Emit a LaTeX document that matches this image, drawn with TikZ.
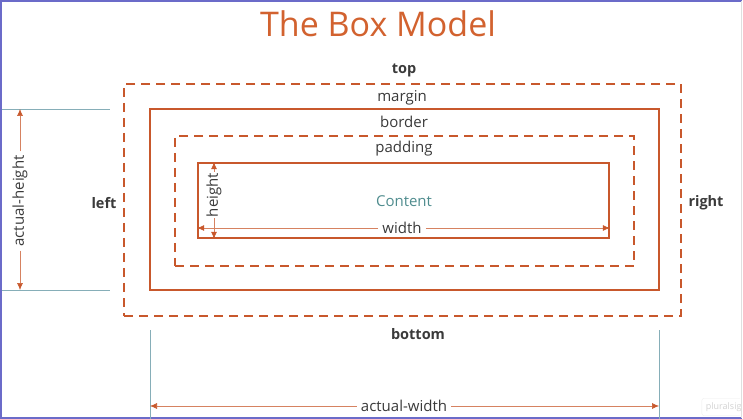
\documentclass[tikz,border=0pt]{standalone}
\usepackage{fontspec}
\setmainfont{Open Sans}
\usepackage{xcolor}
\usetikzlibrary{positioning, arrows.meta, calc}

\definecolor{boxred}{HTML}{C8582C}
\definecolor{titlered}{HTML}{D2622F}
\definecolor{txtgray}{HTML}{3A3A3A}
\definecolor{contentteal}{HTML}{4F8C8E}
\definecolor{extblue}{HTML}{86AEB8}
\definecolor{framepurple}{HTML}{6B6BC9}

\begin{document}
\begin{tikzpicture}[
  x=1pt, y=-1pt,
  every node/.style={font=\fontsize{15}{17}\selectfont, text=txtgray, inner sep=1pt},
  solidbox/.style={draw=boxred, line width=1.6pt, minimum width=#1},
  dashbox/.style={draw=boxred, line width=1.6pt, dash pattern=on 9pt off 6pt},
  side/.style={font=\fontsize{14.5}{17}\selectfont\bfseries},
  dim/.style={draw=boxred!75, line width=0.6pt, -{Latex[length=7pt,width=6pt,color=boxred]}},
  ext/.style={draw=extblue, line width=0.9pt},
]

% ---- frame ----
\useasboundingbox (0,0) rectangle (743,419);
\draw[framepurple, line width=1.2pt] (742,1) -- (1,1) -- (1,418) -- (742,418);
\draw[gray!25, line width=0.8pt] (741,1) -- (741,418);

% ---- title ----
\node[font=\fontsize{34}{38}\selectfont, text=titlered] (title) at (378,24) {The Box Model};

% ---- boxes ----
\node[dashbox, minimum width=557pt, minimum height=232pt] (margin) at (402.5,200) {};
\node[solidbox=509pt, minimum height=181pt] (border) at (404.5,199.5) {};
\node[dashbox, minimum width=459pt, minimum height=130pt] (padding) at (404.5,201) {};
\node[solidbox=411pt, minimum height=75pt] (content) at (403.5,200.5) {};

% ---- labels ----
\node[side] (top) at (404,70) {top};
\node[side] (bottom) at (418,334) {bottom};
\node[side] (left) at (104,203) {left};
\node[side] (right) at (706,203) {right};
\node (marginlbl) at (402,98) {margin};
\node (borderlbl) at (404,122) {border};
\node (paddinglbl) at (404,149) {padding};
\node[text=contentteal] (contentlbl) at (404,201) {Content};

% ---- content dimensions ----
\node[rotate=90] (heightlbl) at (214,195) {height};
\draw[dim] (heightlbl.east) -- (heightlbl.east |- content.north);
\draw[dim] (heightlbl.west) -- (heightlbl.west |- content.south);

\node[inner sep=4pt] (widthlbl) at (402,228) {width};
\draw[dim] (widthlbl.west) -- (widthlbl.west -| content.west);
\draw[dim] (widthlbl.east) -- (widthlbl.east -| content.east);

% ---- actual height ----
\coordinate (ahtop) at (2,109);
\coordinate (ahbot) at (2,290);
\draw[ext] (ahtop) -- ++(108,0);
\draw[ext] (ahbot) -- ++(108,0);
\node[rotate=90, inner sep=4pt] (aheight) at (20,201) {actual-height};
\draw[dim] (aheight.east) -- (aheight.east |- ahtop);
\draw[dim] (aheight.west) -- (aheight.west |- ahbot);

% ---- actual width ----
\coordinate (awleft) at (150,330);
\coordinate (awright) at (659,330);
\draw[ext] (awleft) -- ++(0,89);
\draw[ext] (awright) -- ++(0,89);
\node[inner sep=4pt] (awidth) at (404,406) {actual-width};
\draw[dim] (awidth.west) -- (awidth.west -| awleft);
\draw[dim] (awidth.east) -- (awidth.east -| awright);

% ---- watermark ----
\begin{scope}
  \clip (690,390) rectangle (740,417);
  \node[font=\fontsize{9}{10}\selectfont, text=gray!35, draw=gray!15, rounded corners=2pt, inner sep=4pt] (wmark) at (728,407) {pluralsight};
\end{scope}

\end{tikzpicture}
\end{document}
